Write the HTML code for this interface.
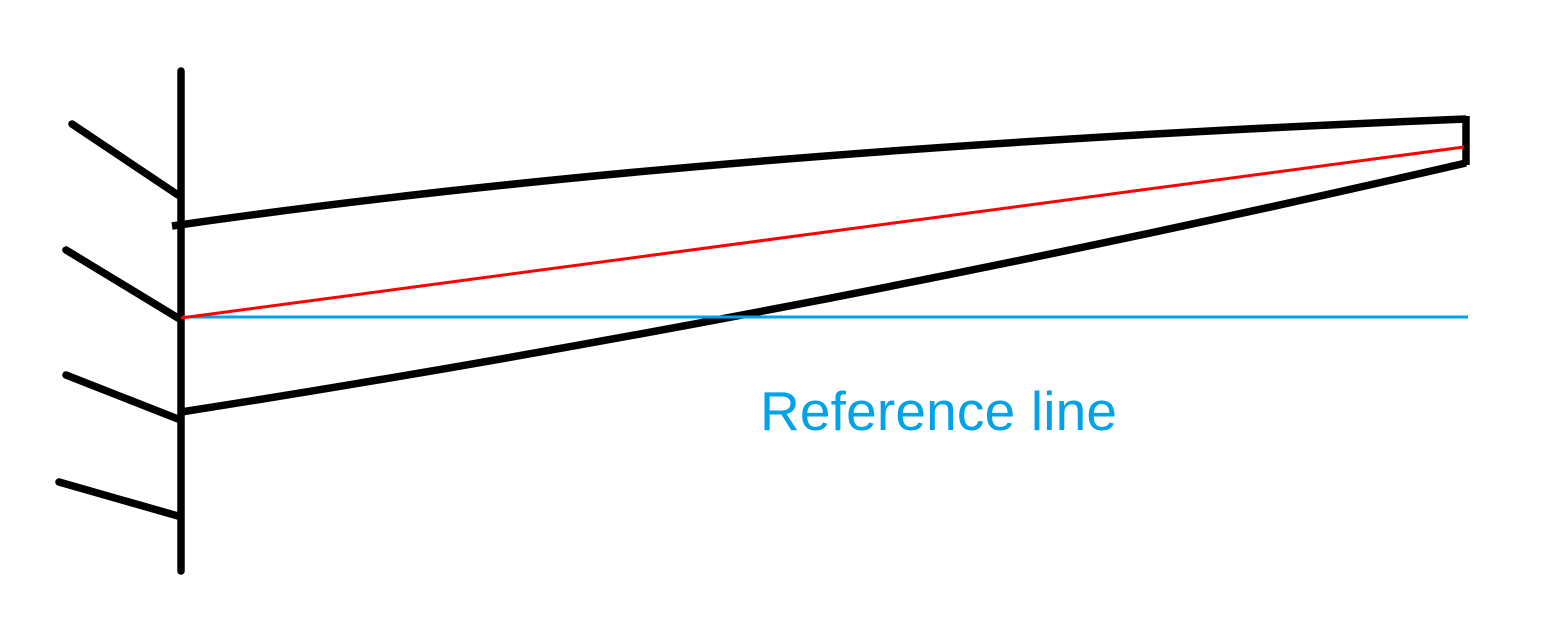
<!DOCTYPE html>
<html><head><style>body{margin:0;background:#fff}</style></head><body>
<svg width="1544" height="616" xmlns="http://www.w3.org/2000/svg">
<g stroke="#000" stroke-width="7.5" stroke-linecap="round" fill="none">
<line x1="181" y1="71" x2="181" y2="571"/>
<line x1="72" y1="124" x2="178" y2="195"/>
<line x1="66" y1="250" x2="178" y2="318"/>
<line x1="66" y1="375" x2="178" y2="419"/>
<line x1="59" y1="482" x2="178" y2="516"/>
<path d="M172 226 Q700 150 1466 119" stroke-linecap="butt"/>
<line x1="1466" y1="116" x2="1466" y2="165" stroke-linecap="butt"/>
<path d="M181 412 Q820 312 1466 163" stroke-linecap="butt"/>
</g>
<line x1="183" y1="317" x2="1468" y2="317" stroke="#00a2e8" stroke-width="3"/>
<line x1="181" y1="318" x2="1464" y2="147" stroke="#ff0000" stroke-width="3"/>
<text x="760" y="430" font-family="Liberation Sans, sans-serif" font-size="55" fill="#00a2e8" textLength="357">Reference line</text>
</svg>
</body></html>
